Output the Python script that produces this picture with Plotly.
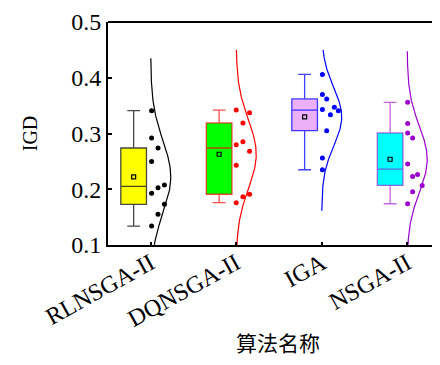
import numpy as np
import plotly.graph_objects as go

# ---- data ----
categories = ["RLNSGA-II", "DQNSGA-II", "IGA", "NSGA-II"]
igd_rlnsga2 = [0.341, 0.292, 0.274, 0.250, 0.2075, 0.2027, 0.193, 0.173, 0.155, 0.134]
igd_dqnsga2 = [0.342, 0.337, 0.319, 0.285, 0.280, 0.268, 0.243, 0.191, 0.1866, 0.176]
igd_iga = [0.406, 0.370, 0.362, 0.343, 0.347, 0.341, 0.3336, 0.305, 0.256, 0.235]
igd_nsga2 = [0.356, 0.318, 0.301, 0.292, 0.2455, 0.2265, 0.223, 0.2068, 0.1955, 0.174]
y_ticks = [0.1, 0.2, 0.3, 0.4, 0.5]

# ---- layout / style (not data) ----
series = [igd_rlnsga2, igd_dqnsga2, igd_iga, igd_nsga2]
dot_shift = [  # horizontal scatter of the dots, in category units
    [0.01, 0.01, 0.085, 0.01, 0.16, 0.085, 0.01, 0.16, 0.085, 0.01],
    [0.0, 0.156, 0.078, 0.078, 0.0, 0.156, 0.0, 0.156, 0.078, 0.0],
    [0.008, 0.008, 0.058, 0.008, 0.148, 0.195, 0.102, 0.058, 0.008, 0.008],
    [0.005, 0.005, 0.005, 0.063, 0.005, 0.121, 0.063, 0.175, 0.063, 0.005],
]
main_col = ["#000000", "#FF0000", "#0000FF", "#9A00CC"]
box_fill = ["#FFFF00", "#00FF00", "#EBB0F8", "#00FFFF"]
box_line = ["rgba(40,40,40,0.85)", "rgba(255,0,0,0.7)", "rgba(0,0,255,0.75)", "rgba(154,0,204,0.6)"]
BOX_OFFSET = -0.2
BOX_WIDTH = 0.30
CURVE_PEAK = 0.234
CURVE_TOP = 0.45
SERIF = "'Liberation Serif', 'Noto Sans CJK SC', serif"

fig = go.Figure()
for i, vals in enumerate(series):
    pos = i + 1
    v = np.array(vals)
    fig.add_trace(go.Box(
        y=v, x0=pos + BOX_OFFSET, width=BOX_WIDTH, quartilemethod="exclusive",
        boxpoints=False, fillcolor=box_fill[i], whiskerwidth=0.5,
        line=dict(color=box_line[i], width=1.3), showlegend=False, hoverinfo="skip",
    ))
    fig.add_trace(go.Scatter(
        x=[pos + BOX_OFFSET], y=[v.mean()], mode="markers", showlegend=False,
        marker=dict(symbol="square-open", size=4, color="#000000", line=dict(width=1.2)),
    ))
    fig.add_trace(go.Scatter(
        x=[pos + s for s in dot_shift[i]], y=v, mode="markers", showlegend=False,
        marker=dict(size=5, color=main_col[i]),
    ))
    m, sd = v.mean(), v.std(ddof=1)
    yy = np.linspace(m - 3.25 * sd, min(m + 3.25 * sd, CURVE_TOP), 200)
    pdf = np.exp(-0.5 * ((yy - m) / sd) ** 2)
    fig.add_trace(go.Scatter(
        x=pos + CURVE_PEAK * pdf, y=yy, mode="lines", showlegend=False,
        line=dict(color=main_col[i], width=1.2),
    ))

fig.add_shape(type="line", xref="paper", yref="paper", x0=0, x1=1, y0=1, y1=1,
              line=dict(color="#000000", width=2))

fig.update_layout(
    width=440, height=365,
    margin=dict(l=100, r=0, t=14, b=128),
    paper_bgcolor="white", plot_bgcolor="white",
    font=dict(family=SERIF, size=24, color="#000000"),
    xaxis=dict(
        range=[0.5, 4.477], tickmode="array", tickvals=[1, 2, 3, 4], ticktext=categories,
        tickangle=-29, ticks="inside", ticklen=3, tickwidth=1.5, tickcolor="#000000",
        ticklabelstandoff=-7,
        showline=True, linecolor="#000000", linewidth=2, showgrid=False, zeroline=False,
        title=dict(text="算法名称", font=dict(family=SERIF, size=21), standoff=4),
        tickfont=dict(family=SERIF, size=24),
    ),
    yaxis=dict(
        range=[0.1, 0.5], tickmode="array", tickvals=y_ticks,
        ticktext=[f"{t:.1f}" for t in y_ticks],
        ticks="inside", ticklen=4, tickwidth=1.5, tickcolor="#000000",
        showline=True, linecolor="#000000", linewidth=2, showgrid=False, zeroline=False,
        title=dict(text="IGD", font=dict(family=SERIF, size=20), standoff=28),
        tickfont=dict(family=SERIF, size=24),
    ),
)

fig.write_html("out.html")
